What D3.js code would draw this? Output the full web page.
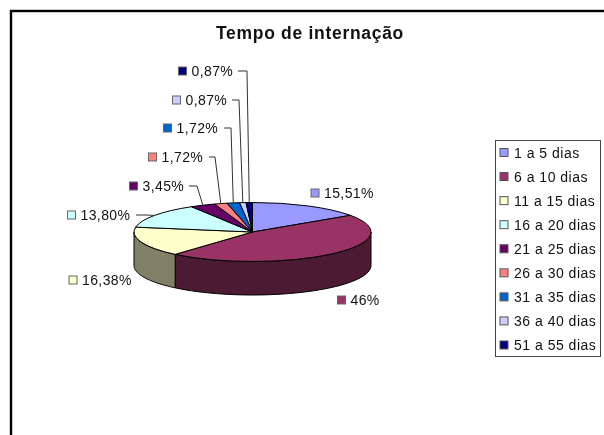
<!DOCTYPE html>
<html>
<head>
<meta charset="utf-8">
<script src="https://cdn.jsdelivr.net/npm/d3@7"></script>
<style>
  html, body { margin: 0; padding: 0; background: #fff; }
  svg { display: block; filter: blur(0.45px); }
  text { font-family: "Liberation Sans", Arial, sans-serif; fill: #111; }
</style>
</head>
<body>
<svg id="chart" width="604" height="435"></svg>
<script>
const categories = ['1 a 5 dias', '6 a 10 dias', '11 a 15 dias', '16 a 20 dias', '21 a 25 dias', '26 a 30 dias', '31 a 35 dias', '36 a 40 dias', '51 a 55 dias'];
const shares = [15.51, 46, 16.38, 13.80, 3.45, 1.72, 1.72, 0.87, 0.87];
const shareLabels = ['15,51%', '46%', '16,38%', '13,80%', '3,45%', '1,72%', '1,72%', '0,87%', '0,87%'];
const colors = ['#9999ff', '#993366', '#ffffcc', '#ccffff', '#660066', '#ff8080', '#0066cc', '#ccccff', '#000080'];
const title = 'Tempo de internação';

// posição dos rótulos: [centro x da caixinha, centro y]
const labelSpots = [[315, 193], [341.5, 300], [73, 280], [71.5, 215], [133.5, 186], [152.5, 157], [167.5, 128], [176.5, 100], [182.5, 71]];
// linhas de chamada: [início x, cotovelo x] (null = sem linha)
const leaderSpots = [null, null, null, [136, 146], [189, 197], [209, 215], [224, 231], [232, 239], [238, 247]];

const width = 604;
const height = 435;
const cx = 252.5;
const cy = 232;
const rx = 118.5;
const ry = 29.5;
const depth = 33.5;

const svg = d3.select('#chart');

svg.append('rect').attr('x', 11).attr('y', 11).attr('width', width + 10).attr('height', height + 10)
  .attr('fill', '#fff').attr('stroke', '#000').attr('stroke-width', 2.4);

svg.append('text').attr('x', 310).attr('y', 39).attr('text-anchor', 'middle')
  .attr('font-size', 17.5).attr('font-weight', 'bold').attr('letter-spacing', 0.7).text(title);

const pie = d3.pie().sort(null).startAngle(0).endAngle(2 * Math.PI);
const slices = pie(shares);

const px = (a) => cx + rx * Math.sin(a);
const py = (a) => cy - ry * Math.cos(a);

// Parede lateral: só a parte frontal da elipse (entre 90° e 270°) aparece.
const wall = svg.append('g');
slices.forEach((s, i) => {
  const a0 = Math.max(s.startAngle, Math.PI / 2);
  const a1 = Math.min(s.endAngle, 1.5 * Math.PI);
  if (a1 <= a0) return;
  const steps = d3.range(0, 41).map((k) => a0 + (a1 - a0) * k / 40);
  const top = steps.map((a) => [px(a), py(a)]);
  const bottom = steps.slice().reverse().map((a) => [px(a), py(a) + depth]);
  const c = d3.rgb(colors[i]);
  wall.append('path')
    .attr('d', d3.line()(top.concat(bottom)) + 'Z')
    .attr('fill', d3.rgb(c.r / 2, c.g / 2, c.b / 2))
    .attr('stroke', '#000').attr('stroke-width', 1).attr('stroke-linejoin', 'round');
});

// Tampo: arco circular achatado em y.
const arc = d3.arc().innerRadius(0).outerRadius(rx);
svg.append('g')
  .attr('transform', `translate(${cx},${cy}) scale(1,${ry / rx})`)
  .selectAll('path')
  .data(slices)
  .join('path')
  .attr('d', arc)
  .attr('fill', (d, i) => colors[i])
  .attr('stroke', '#000').attr('stroke-width', 1)
  .attr('vector-effect', 'non-scaling-stroke');

// Rótulos
const labels = svg.append('g');
shareLabels.forEach((t, i) => {
  const [x, y] = labelSpots[i];
  labels.append('rect').attr('x', x - 4).attr('y', y - 4).attr('width', 8).attr('height', 8)
    .attr('fill', colors[i]).attr('stroke', '#666').attr('stroke-width', 1);
  labels.append('text').attr('x', x + 9).attr('y', y + 5).attr('font-size', 14).attr('letter-spacing', 0.4).text(t);
});

// Linhas de chamada, da borda da fatia até o texto
leaderSpots.forEach((spot, i) => {
  if (!spot) return;
  const s = slices[i];
  const mid = (s.startAngle + s.endAngle) / 2;
  const y = labelSpots[i][1];
  const pts = [[spot[0], y], [spot[1], y], [px(mid), py(mid)]];
  svg.append('path').attr('d', d3.line()(pts)).attr('fill', 'none').attr('stroke', '#333').attr('stroke-width', 1);
});

// Legenda
const legendBox = { x: 495.5, y: 140.5, w: 105, h: 216 };
svg.append('rect').attr('x', legendBox.x).attr('y', legendBox.y).attr('width', legendBox.w).attr('height', legendBox.h)
  .attr('fill', '#fff').attr('stroke', '#444').attr('stroke-width', 1);
const legendY = d3.scalePoint().domain(categories).range([152.5, 345]);
const legend = svg.append('g').selectAll('g').data(categories).join('g')
  .attr('transform', (d) => `translate(504,${legendY(d)})`);
legend.append('rect').attr('x', -4).attr('y', -4).attr('width', 8).attr('height', 8)
  .attr('fill', (d, i) => colors[i]).attr('stroke', '#555').attr('stroke-width', 1);
legend.append('text').attr('x', 10).attr('y', 5).attr('font-size', 14).attr('letter-spacing', 0.5).text((d) => d);
</script>
</body>
</html>
